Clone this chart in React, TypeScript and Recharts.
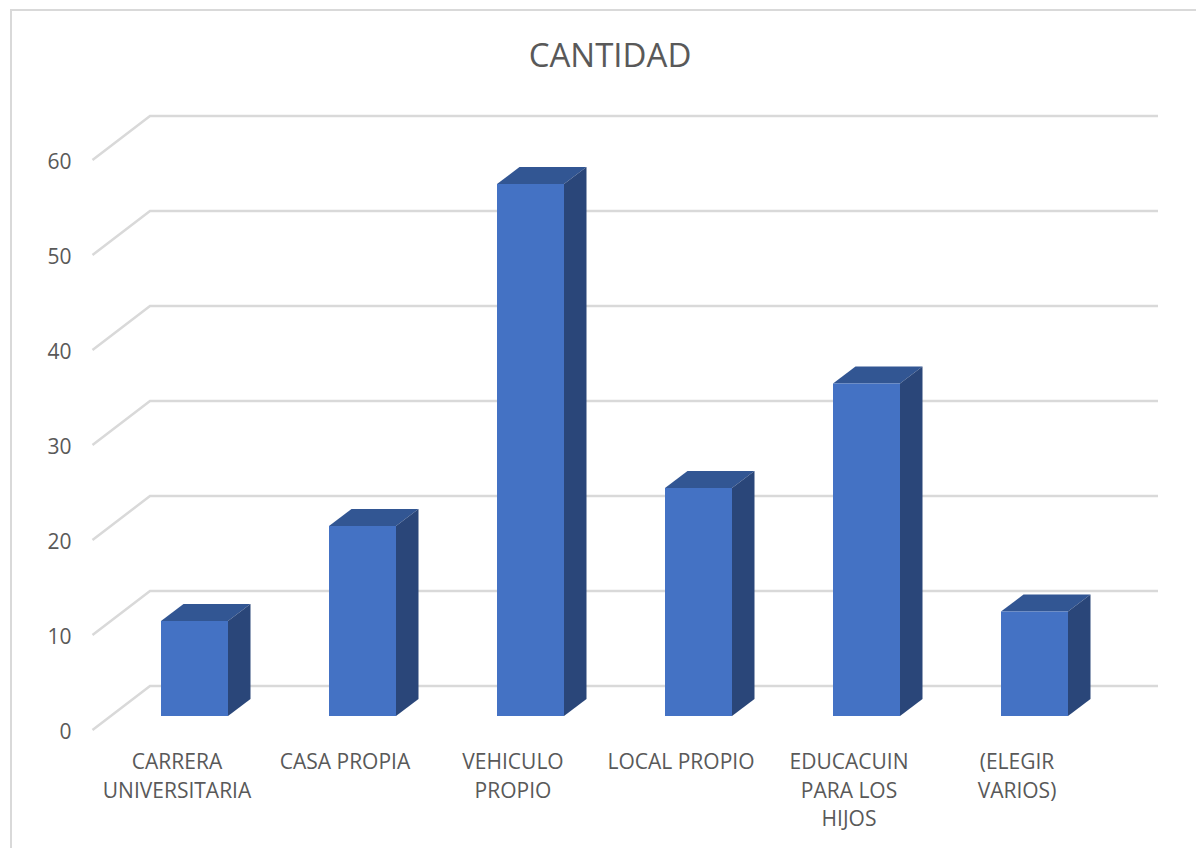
import { BarChart, Bar, XAxis, YAxis, CartesianGrid } from 'recharts';

const categories = ['CARRERA UNIVERSITARIA', 'CASA PROPIA', 'VEHICULO PROPIO', 'LOCAL PROPIO', 'EDUCACUIN PARA LOS HIJOS', '(ELEGIR VARIOS)'];
const values = [10, 20, 56, 24, 35, 11];
const yTicks = [0, 10, 20, 30, 40, 50, 60];
const tickLines = [
  ['CARRERA', 'UNIVERSITARIA'],
  ['CASA PROPIA'],
  ['VEHICULO', 'PROPIO'],
  ['LOCAL PROPIO'],
  ['EDUCACUIN', 'PARA LOS', 'HIJOS'],
  ['(ELEGIR', 'VARIOS)'],
];

const data = categories.map((name, i) => ({ name, value: values[i] }));

const FONT = '"Open Sans", sans-serif';
const TEXT = '#595959';
const GRID = '#d9d9d9';

// bar depth in the fake 3D
const DX = 22.5;
const DY = 17;

const Bar3D = (props: any) => {
  const { x, y, width, height } = props;
  const r = x + width;
  const b = y + height;
  return (
    <g>
      <polygon points={`${x},${y} ${x + DX},${y - DY} ${r + DX},${y - DY} ${r},${y}`} fill="#325693" />
      <polygon points={`${r},${y} ${r + DX},${y - DY} ${r + DX},${b - DY} ${r},${b}`} fill="#2a4679" />
      <rect x={x} y={y} width={width} height={height} fill="#4472c4" />
    </g>
  );
};

// each gridline runs from the front of the floor up the side wall and along the back wall
const gridLine = (props: any) => {
  const { x1, x2, y1, key } = props;
  const pts = `${x1 - 18},${y1 + 14} ${x1 + 39.5},${y1 - 30} ${x2 + 39.5},${y1 - 30}`;
  return <polyline key={key} points={pts} fill="none" stroke={GRID} strokeWidth={2.5} />;
};

const YTick = ({ x, y, payload }: any) => (
  <text x={x} y={y + 23} textAnchor="end" fontFamily={FONT} fontSize={21} fill={TEXT}>
    {payload.value}
  </text>
);

const XTick = ({ x, y, payload, index }: any) => {
  const lines = tickLines[index] || [payload.value];
  return (
    <text textAnchor="middle" fontFamily={FONT} fontSize={21} fill={TEXT}>
      {lines.map((line, i) => (
        <tspan key={line} x={x - 17.5} y={y + 45 + i * 28.5}>
          {line}
        </tspan>
      ))}
    </text>
  );
};

export default function App() {
  return (
    <div style={{ position: 'absolute', left: 0, top: 0, width: 1196, height: 848, overflow: 'hidden', background: '#fff' }}>
      <div
        style={{
          position: 'absolute',
          left: 10,
          top: 9,
          width: 1186,
          height: 839,
          borderLeft: `2px solid ${GRID}`,
          borderTop: `2px solid ${GRID}`,
          boxSizing: 'border-box',
        }}
      />
      <div style={{ position: 'absolute', left: 0, top: 0 }}>
        <BarChart
          width={1196}
          height={848}
          data={data}
          margin={{ top: 146, right: 77.5, bottom: 112, left: 50.5 }}
          barCategoryGap={50.5}
        >
          <CartesianGrid vertical={false} horizontal={gridLine} />
          <XAxis dataKey="name" axisLine={false} tickLine={false} interval={0} tick={<XTick />} height={20} />
          <YAxis
            domain={[0, 60]}
            ticks={yTicks}
            width={60}
            axisLine={false}
            tickLine={false}
            tickMargin={33}
            tick={<YTick />}
          />
          <Bar dataKey="value" isAnimationActive={false} shape={<Bar3D />} />
          <text x={610} y={67} textAnchor="middle" fontFamily={FONT} fontSize={33} fill={TEXT}>
            CANTIDAD
          </text>
        </BarChart>
      </div>
    </div>
  );
}
